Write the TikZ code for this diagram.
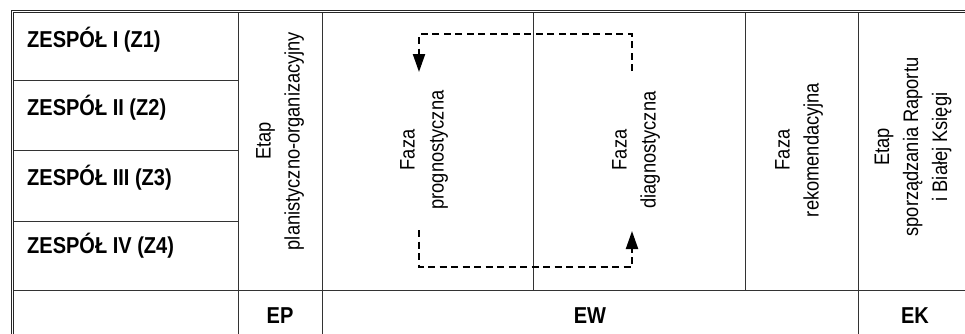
\documentclass[tikz,border=0pt]{standalone}
\usepackage{fontspec}
\setmainfont[FakeStretch=0.87]{Liberation Sans}
\usetikzlibrary{arrows.meta}
\tikzset{
  linia/.style={draw=black!80, line width=0.9pt},
  ramka/.style={draw=black!85, line width=0.8pt},
  zespol/.style={anchor=base west, inner sep=0pt, font=\fontsize{23}{27}\selectfont\bfseries},
  faza/.style={rotate=90, align=center, inner sep=0pt, font=\fontsize{21}{29}\selectfont},
  skrot/.style={anchor=base, inner sep=0pt, font=\fontsize{23}{27}\selectfont\bfseries},
  petla/.style={line width=2.1pt, dash pattern=on 7pt off 4.5pt,
    -{Triangle[length=18pt,width=12pt]}}
}

\begin{document}
\begin{tikzpicture}[x=1pt,y=-1pt]
    \useasboundingbox (0,0) rectangle (965,333);
    \clip (0,0) rectangle (965,333);
    \draw[ramka] (11,345) -- (11,10) -- (975,10);
    \draw[ramka] (13.5,345) -- (13.5,12.5) -- (975,12.5);
    \foreach \y in {80,150,221} \draw[linia] (13.5,\y) -- (238,\y);
    \draw[linia] (13.5,290) -- (975,290);
    \foreach \x in {238,322,858} \draw[linia] (\x,12.5) -- (\x,345);
    \foreach \x in {533,745} \draw[linia] (\x,12.5) -- (\x,290);

    \node[zespol] (z1) at (27,47)  {ZESPÓŁ I (Z1)};
    \node[zespol] (z2) at (27,115) {ZESPÓŁ II (Z2)};
    \node[zespol] (z3) at (27,185) {ZESPÓŁ III (Z3)};
    \node[zespol] (z4) at (27,253) {ZESPÓŁ IV (Z4)};

    \node[faza] (etapP) at (280,141) {Etap\\planistyczno-organizacyjny};
    \node[faza] (fazaP) at (424,150) {Faza\\prognostyczna};
    \node[faza] (fazaD) at (636,150) {Faza\\diagnostyczna};
    \node[faza] (fazaR) at (799,150) {Faza\\rekomendacyjna};
    \node[faza] (etapK) at (913,147) {Etap\\sporządzania Raportu\\i Białej Księgi};

    \node[skrot] (ep) at (280,323) {EP};
    \node[skrot] (ew) at (590,323) {EW};
    \node[skrot] (ek) at (915,323) {EK};

    \coordinate (gP) at (632,71);
    \coordinate (gPr) at (632,34);
    \coordinate (gLr) at (419,34);
    \coordinate (gL) at (419,72);
    \coordinate (dL) at (419,230);
    \coordinate (dLr) at (419,267);
    \coordinate (dPr) at (632,267);
    \coordinate (dP) at (632,231);
    \draw[petla] (gP) -- (gPr) -- (gLr) -- (gL);
    \draw[petla] (dL) -- (dLr) -- (dPr) -- (dP);
\end{tikzpicture}
\end{document}
